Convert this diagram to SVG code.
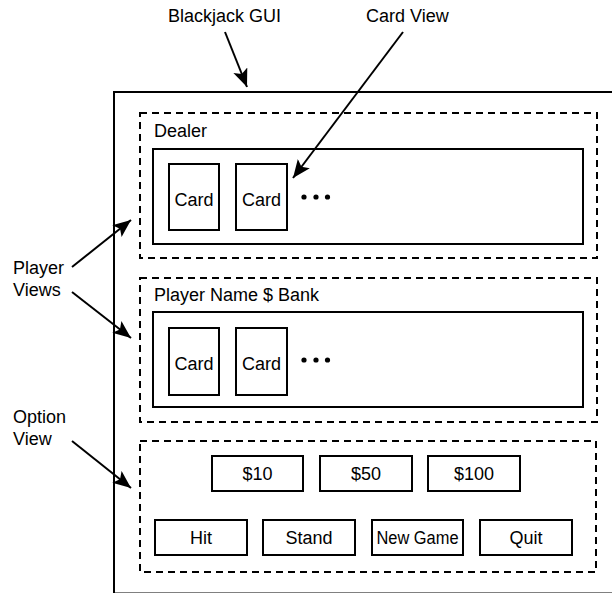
<svg xmlns="http://www.w3.org/2000/svg" width="612" height="593" viewBox="0 0 612 593">
<style>
text{font-family:"Liberation Sans",Arial,sans-serif;font-size:18px;fill:#000}
.c{text-anchor:middle}
.solid{fill:#fff;stroke:#000;stroke-width:2}
.dash{fill:none;stroke:#000;stroke-width:2;stroke-dasharray:7 5}
.arr{fill:none;stroke:#000;stroke-width:2;marker-end:url(#ah)}
</style>
<defs>
<marker id="ah" markerUnits="userSpaceOnUse" markerWidth="20" markerHeight="16" refX="18" refY="7.5" orient="auto">
<path d="M0,0 L18,7.5 L0,15 L4,7.5 z" fill="#000"/>
</marker>
</defs>
<rect width="612" height="593" fill="#fff"/>
<g id="gui">
<rect class="solid" x="114" y="92" width="500" height="501.5"/>
</g>
<g id="dealer">
<rect class="dash" x="140" y="113" width="457" height="145"/>
<text x="154" y="137">Dealer</text>
<rect class="solid" x="153" y="149" width="430" height="95"/>
</g>
<g id="dealer-card1"><rect class="solid" x="169" y="164" width="50" height="66"/><text class="c" x="194" y="206">Card</text></g>
<g id="dealer-card2"><rect class="solid" x="236" y="164" width="51" height="66"/><text class="c" x="261.5" y="206">Card</text></g>
<g id="dealer-dots"><circle cx="304" cy="197" r="2.6"/><circle cx="316" cy="197" r="2.6"/><circle cx="327.5" cy="197" r="2.6"/></g>
<g id="player">
<rect class="dash" x="140" y="278" width="457" height="144"/>
<text x="154" y="301">Player Name $ Bank</text>
<rect class="solid" x="153" y="312" width="430" height="95"/>
</g>
<g id="player-card1"><rect class="solid" x="169" y="328" width="50" height="67"/><text class="c" x="194" y="369.5">Card</text></g>
<g id="player-card2"><rect class="solid" x="236" y="328" width="51" height="67"/><text class="c" x="261.5" y="369.5">Card</text></g>
<g id="player-dots"><circle cx="304" cy="360" r="2.6"/><circle cx="316" cy="360" r="2.6"/><circle cx="327.5" cy="360" r="2.6"/></g>
<g id="options">
<rect class="dash" x="140" y="441" width="456" height="131"/>
</g>
<g id="btn10"><rect class="solid" x="212" y="456" width="91" height="35"/><text class="c" x="257.5" y="480">$10</text></g>
<g id="btn50"><rect class="solid" x="320" y="456" width="92" height="35"/><text class="c" x="366" y="480">$50</text></g>
<g id="btn100"><rect class="solid" x="428" y="456" width="92" height="35"/><text class="c" x="474" y="480">$100</text></g>
<g id="btnHit"><rect class="solid" x="155" y="520" width="92" height="35"/><text class="c" x="201" y="544">Hit</text></g>
<g id="btnStand"><rect class="solid" x="263" y="520" width="92" height="35"/><text class="c" x="309" y="544">Stand</text></g>
<g id="btnNew"><rect class="solid" x="372" y="520" width="91" height="35"/><text class="c" x="417.5" y="544" textLength="82" lengthAdjust="spacingAndGlyphs">New Game</text></g>
<g id="btnQuit"><rect class="solid" x="480" y="520" width="92" height="35"/><text class="c" x="526" y="544">Quit</text></g>
<g id="labels">
<text x="168" y="22">Blackjack GUI</text>
<text x="366" y="22">Card View</text>
<text x="13" y="274">Player</text>
<text x="13" y="296">Views</text>
<text x="13" y="423">Option</text>
<text x="13" y="445">View</text>
</g>
<g id="connectors">
<line class="arr" x1="225" y1="32" x2="247" y2="87"/>
<line class="arr" x1="403" y1="32" x2="293" y2="178"/>
<line class="arr" x1="72" y1="267" x2="131" y2="220"/>
<line class="arr" x1="72" y1="292" x2="131" y2="338"/>
<line class="arr" x1="72" y1="441" x2="131" y2="488"/>
</g>
</svg>
